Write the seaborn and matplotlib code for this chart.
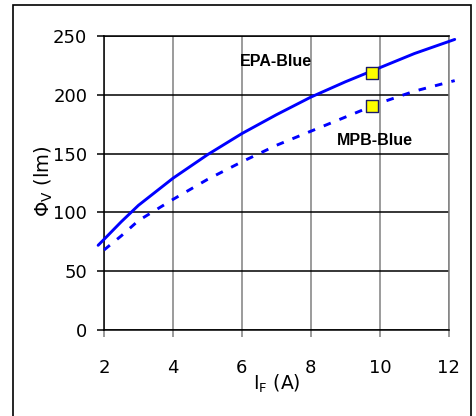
import matplotlib
matplotlib.use("Agg")
import matplotlib.pyplot as plt
import seaborn as sns
from matplotlib.patches import Rectangle

# data
epa_if = [1.83, 2, 2.5, 3, 4, 5, 6, 7, 8, 9, 10, 11, 12.17]
epa_flux = [72, 77, 92, 106, 129, 149, 167, 183, 198, 211, 223, 235, 247]
mpb_if = [2, 2.5, 3, 4, 5, 6, 7, 8, 9, 10, 11, 12.17]
mpb_flux = [68, 80, 93, 111, 128, 143, 157, 169, 181, 193, 203, 212]
meas_if = [9.77, 9.77]
meas_flux = [218.5, 190]

x_ticks = [2, 4, 6, 8, 10, 12]
y_ticks = [0, 50, 100, 150, 200, 250]

sns.set_style("white")
plt.rcParams["font.family"] = ["DejaVu Sans"]
plt.rcParams["text.color"] = "black"
plt.rcParams["axes.labelcolor"] = "black"
plt.rcParams["xtick.color"] = "black"
plt.rcParams["ytick.color"] = "black"

fig = plt.figure(figsize=(4.77, 4.16), dpi=100)
ax = fig.add_axes([0.218, 0.2067, 0.723, 0.707])

# outer frame
fig.patches.append(Rectangle((0.0273, -0.01), 0.960, 0.998, transform=fig.transFigure,
                             fill=False, edgecolor="black", linewidth=1.2, zorder=0))

for xv in x_ticks:
    ax.axvline(xv, color="#808080", lw=1.1, zorder=1)
for yv in y_ticks:
    ax.axhline(yv, color="black", lw=1.1, zorder=1)

sns.lineplot(x=epa_if, y=epa_flux, ax=ax, color="#0000ff", lw=2.1, sort=False,
             zorder=3, clip_on=False)
line2 = sns.lineplot(x=mpb_if, y=mpb_flux, ax=ax, color="#0000ff", lw=2.1, sort=False,
                     zorder=3, clip_on=False).lines[-1]
line2.set_dashes((2.6, 3.2))
sns.scatterplot(x=meas_if, y=meas_flux, ax=ax, marker="s", s=78, color="#ffff00",
                edgecolor="#1a1a66", linewidth=1.0, zorder=5)

ax.set_xlim(2, 12)
ax.set_ylim(0, 250)
ax.set_xticks(x_ticks)
ax.set_yticks(y_ticks)
ax.tick_params(axis="both", labelsize=13, direction="out", length=5, width=1.1)
ax.tick_params(axis="x", pad=16, colors="#808080", labelcolor="black")
ax.tick_params(axis="y", pad=7, left=True, colors="black")
ax.tick_params(axis="x", bottom=True)

for side in ["left", "bottom", "top"]:
    ax.spines[side].set_color("black")
ax.spines["right"].set_color("#808080")
for s in ax.spines.values():
    s.set_linewidth(1.1)
    s.set_zorder(2)

ax.set_xlabel(r"I$_\mathregular{F}$ (A)", fontsize=13.5)
ax.xaxis.set_label_coords(0.5, -0.145)
ax.set_ylabel(r"$\mathregular{\Phi_V}$ (lm)", fontsize=14)
ax.yaxis.set_label_coords(-0.143, 0.505)

ax.text(5.94, 228, "EPA-Blue", fontsize=11.5, fontweight="bold",
        family="Liberation Sans", va="center", ha="left")
ax.text(9.86, 161.5, "MPB-Blue", fontsize=11.5, fontweight="bold",
        family="Liberation Sans", va="center", ha="center")

fig.savefig("out.png", dpi=100)
